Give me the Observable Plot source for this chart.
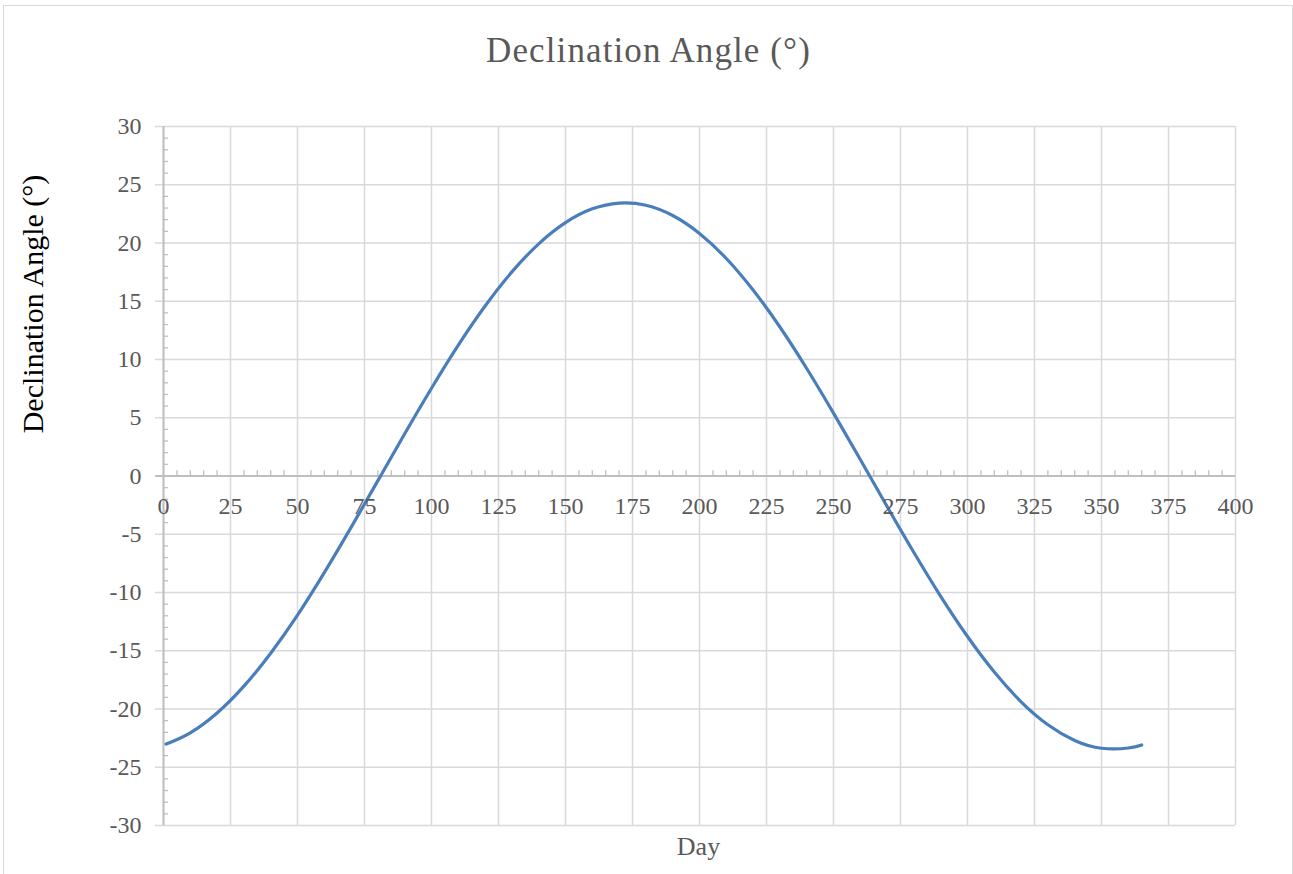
<!DOCTYPE html>
<html><head><meta charset="utf-8">
<script src="https://cdn.jsdelivr.net/npm/d3@7"></script>
<script src="https://cdn.jsdelivr.net/npm/@observablehq/plot@0.6"></script>
<style>
html,body{margin:0;padding:0;background:#fff;}
#wrap{position:relative;width:1293px;height:874px;overflow:hidden;}
#chart{position:absolute;left:0;top:0;}
#border{position:absolute;left:3px;top:5px;width:1290px;height:900px;border:1.5px solid #d9d9d9;box-sizing:border-box;pointer-events:none;}
</style></head>
<body><div id="wrap"><div id="chart"></div><div id="border"></div></div>
<script>
const days = [1, 10, 20, 30, 40, 50, 60, 70, 80, 90, 100, 110, 120, 130, 140, 150, 160, 170, 180, 190, 200, 210, 220, 230, 240, 250, 260, 270, 280, 290, 300, 310, 320, 330, 340, 350, 360, 365];
const declination = [-23.01, -22.04, -20.34, -18.04, -15.21, -11.94, -8.29, -4.41, -0.40, 3.62, 7.53, 11.23, 14.59, 17.52, 19.93, 21.75, 22.93, 23.43, 23.24, 22.36, 20.82, 18.67, 15.96, 12.79, 9.23, 5.40, 1.41, -2.62, -6.57, -10.33, -13.78, -16.83, -19.38, -21.35, -22.70, -23.37, -23.35, -23.09];
const xTicks = [0, 25, 50, 75, 100, 125, 150, 175, 200, 225, 250, 275, 300, 325, 350, 375, 400];
const xTickLabels = ["0", "25", "50", "75", "100", "125", "150", "175", "200", "225", "250", "275", "300", "325", "350", "375", "400"];
const yTicks = [-30, -25, -20, -15, -10, -5, 0, 5, 10, 15, 20, 25, 30];
const yTickLabels = ["-30", "-25", "-20", "-15", "-10", "-5", "0", "5", "10", "15", "20", "25", "30"];
const chartTitle = "Declination Angle (°)";
const yTitle = "Declination Angle (°)";
const xTitle = "Day";

const data = days.map((d, i) => ({day: d, value: declination[i]}));
const xTickData = xTicks.map((t, i) => ({t, label: xTickLabels[i]}));
const yTickData = yTicks.map((t, i) => ({t, label: yTickLabels[i]}));
const xMinor = d3.range(0, 401, 5).filter(v => v % 25 !== 0);
const yMinor = d3.range(-30, 31, 1).filter(v => v % 5 !== 0);

const GRID = "#d9d9d9", AXIS = "#bfbfbf", TXT = "#595959";
const serif = "Liberation Serif, Times New Roman, serif";

const plot = Plot.plot({
  width: 1293,
  height: 874,
  marginLeft: 163,
  marginRight: 58,
  marginTop: 126,
  marginBottom: 49,
  style: {background: "transparent", fontFamily: serif},
  x: {domain: [0, 400], axis: null},
  y: {domain: [-30, 30], axis: null},
  marks: [
    Plot.ruleX(xTicks, {stroke: GRID, strokeWidth: 1.5}),
    Plot.ruleY(yTicks, {x1: 0, x2: 400, stroke: GRID, strokeWidth: 1.5}),
    Plot.ruleY(yTicks, {x1: -3, x2: 0, stroke: GRID, strokeWidth: 1.5}),
    Plot.ruleY(yMinor, {x1: 0, x2: 1.9, stroke: AXIS, strokeWidth: 1.3}),
    Plot.ruleX(xMinor, {y1: 0, y2: 0.45, stroke: AXIS, strokeWidth: 1.3}),
    Plot.ruleX([0], {stroke: AXIS, strokeWidth: 2}),
    Plot.ruleY([0], {x1: -3, x2: 400, stroke: AXIS, strokeWidth: 2}),
    Plot.line(data, {x: "day", y: "value", stroke: "#4a7ebb", strokeWidth: 3.2, curve: "natural"}),
    Plot.text(yTickData, {x: 0, y: "t", text: "label", dx: -22, textAnchor: "end", fill: TXT, fontSize: 24, fontFamily: serif}),
    Plot.text(xTickData, {x: "t", y: 0, text: "label", dy: 30, fill: TXT, fontSize: 24, fontFamily: serif}),
    Plot.text([chartTitle], {frameAnchor: "top", textAnchor: "middle", lineAnchor: "middle", dx: -51, dy: -76, fill: TXT, fontSize: 35, fontFamily: serif}),
    Plot.text([yTitle], {frameAnchor: "left", textAnchor: "middle", lineAnchor: "middle", rotate: -90, dx: -130, dy: -172, fill: "#000", fontSize: 30, fontFamily: serif}),
    Plot.text([xTitle], {frameAnchor: "bottom", textAnchor: "middle", lineAnchor: "middle", dx: -1, dy: 21, fill: TXT, fontSize: 26, fontFamily: serif})
  ]
});
document.getElementById("chart").appendChild(plot);
d3.select(plot).selectAll("text").filter(function() { return this.textContent === chartTitle && !/rotate/.test(this.getAttribute("transform") || ""); }).style("letter-spacing", "1.1px");
</script>
</body></html>
